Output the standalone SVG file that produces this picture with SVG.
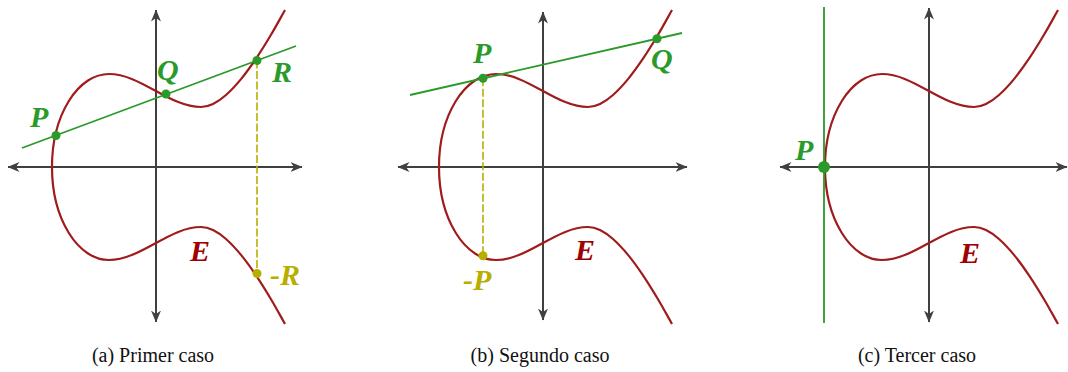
<svg xmlns="http://www.w3.org/2000/svg" xmlns:xlink="http://www.w3.org/1999/xlink" width="1068" height="372" viewBox="0 0 1068 372">
<style>
.axis{stroke:#404040;stroke-width:2;fill:none;marker-start:url(#arr);marker-end:url(#arr)}
.curve{stroke:#a01c1c;stroke-width:2.2;fill:none}
.gline{stroke:#2a9a2a;stroke-width:1.8;fill:none}
.dash{stroke:#b8ae00;stroke-width:1.6;stroke-dasharray:8 2.5;fill:none}
.gdot{fill:#2a9a2a}
.ydot{fill:#b8ae00}
.lbl{font-family:"Liberation Serif","Times New Roman",serif;font-weight:bold;font-style:italic;font-size:30px}
.g{fill:#2a9a2a}
.y{fill:#b8ae00}
.e{fill:#a00000}
.cap{font-family:"Liberation Serif","Times New Roman",serif;font-size:20px;fill:#111;text-anchor:middle}
</style>
<defs>
<marker id="arr" viewBox="0 0 12 10" refX="11.5" refY="5" markerWidth="12" markerHeight="10" markerUnits="userSpaceOnUse" orient="auto-start-reverse">
<path d="M0,0 L12,5 L0,10 L3.5,5 Z" fill="#404040"/>
</marker>
<path id="up" d="M-104,0 A57,93 0 0 1 -47,-93 C-15,-93 13,-60 45,-60 C49,-60 52.83,-61 57,-63 C61.17,-65 65.33,-67.85 70,-72 C74.67,-76.15 80,-81.85 85,-87.9 C90,-93.95 95,-100.92 100,-108.3 C105,-115.68 110.17,-124.08 115,-132.2 C119.830,-140.32 124.33,-148.73 129,-157"/>
</defs>
<rect width="1068" height="372" fill="#fff"/>

<!-- Panel a -->
<g id="panel-a">
  <g id="a-axes">
    <line class="axis" x1="156" y1="322" x2="156" y2="10"/>
    <line class="axis" x1="8" y1="167" x2="302" y2="167"/>
  </g>
  <g id="a-curve" transform="translate(156,167)">
    <use xlink:href="#up" class="curve"/>
    <use xlink:href="#up" class="curve" transform="scale(1,-1)"/>
  </g>
  <g id="a-connectors">
    <line class="gline" x1="22" y1="148" x2="296" y2="46"/>
    <line class="dash" x1="257" y1="60.5" x2="257" y2="273.5"/>
  </g>
  <g id="a-P"><circle class="gdot" cx="56" cy="135.5" r="4.5"/><text class="lbl g" x="30" y="127">P</text></g>
  <g id="a-Q"><circle class="gdot" cx="166" cy="94" r="4.5"/><text class="lbl g" x="157" y="80">Q</text></g>
  <g id="a-R"><circle class="gdot" cx="257" cy="60.5" r="4.5"/><text class="lbl g" x="272" y="82">R</text></g>
  <g id="a-mR"><circle class="ydot" cx="257" cy="273.5" r="4.5"/><text class="lbl y" x="270" y="285">-R</text></g>
  <g id="a-E"><text class="lbl e" x="190" y="261">E</text></g>
</g>

<!-- Panel b -->
<g id="panel-b">
  <g id="b-axes">
    <line class="axis" x1="543" y1="320" x2="543" y2="12"/>
    <line class="axis" x1="398" y1="167" x2="687" y2="167"/>
  </g>
  <g id="b-curve" transform="translate(543,167)">
    <use xlink:href="#up" class="curve"/>
    <use xlink:href="#up" class="curve" transform="scale(1,-1)"/>
  </g>
  <g id="b-connectors">
    <line class="gline" x1="410" y1="95" x2="682" y2="33"/>
    <line class="dash" x1="483" y1="78.3" x2="483" y2="255.7"/>
  </g>
  <g id="b-P"><circle class="gdot" cx="483" cy="78.3" r="4.5"/><text class="lbl g" x="473" y="63">P</text></g>
  <g id="b-Q"><circle class="gdot" cx="657" cy="38.7" r="4.5"/><text class="lbl g" x="651" y="69">Q</text></g>
  <g id="b-mP"><circle class="ydot" cx="483" cy="255.7" r="4.5"/><text class="lbl y" x="463" y="290">-P</text></g>
  <g id="b-E"><text class="lbl e" x="575" y="260">E</text></g>
</g>

<!-- Panel c -->
<g id="panel-c">
  <g id="c-axes">
    <line class="axis" x1="929" y1="322" x2="929" y2="8"/>
    <line class="axis" x1="780" y1="167" x2="1067" y2="167"/>
  </g>
  <g id="c-curve" transform="translate(929,167)">
    <use xlink:href="#up" class="curve"/>
    <use xlink:href="#up" class="curve" transform="scale(1,-1)"/>
  </g>
  <g id="c-connectors">
    <line class="gline" x1="824" y1="7" x2="824" y2="323"/>
  </g>
  <g id="c-P"><circle class="gdot" cx="824" cy="167" r="6"/><text class="lbl g" x="795" y="160">P</text></g>
  <g id="c-E"><text class="lbl e" x="960" y="263">E</text></g>
</g>

<g id="captions">
  <text class="cap" x="153" y="362">(a) Primer caso</text>
  <text class="cap" x="540" y="362">(b) Segundo caso</text>
  <text class="cap" x="917" y="362">(c) Tercer caso</text>
</g>
</svg>
